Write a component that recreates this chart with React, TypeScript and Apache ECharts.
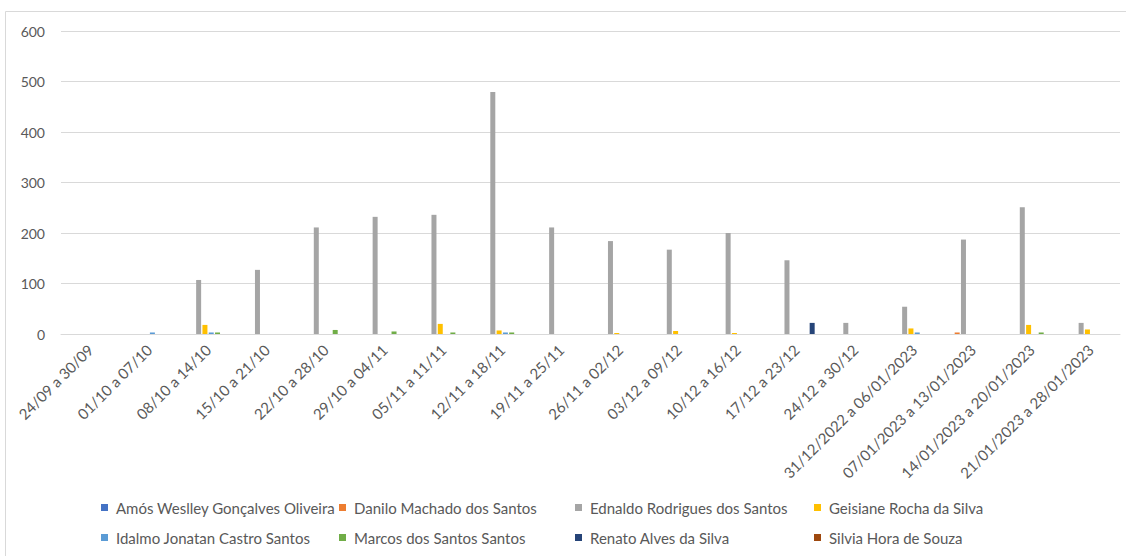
import React, { useEffect, useRef } from "react";
import * as echarts from "echarts";

const categories = [
  "24/09 a 30/09", "01/10 a 07/10", "08/10 a 14/10", "15/10 a 21/10", "22/10 a 28/10",
  "29/10 a 04/11", "05/11 a 11/11", "12/11 a 18/11", "19/11 a 25/11", "26/11 a 02/12",
  "03/12 a 09/12", "10/12 a 16/12", "17/12 a 23/12", "24/12 a 30/12",
  "31/12/2022 a 06/01/2023", "07/01/2023 a 13/01/2023", "14/01/2023 a 20/01/2023", "21/01/2023 a 28/01/2023",
];

const seriesNames = [
  "Amós Weslley Gonçalves Oliveira",
  "Danilo Machado dos Santos",
  "Ednaldo Rodrigues dos Santos",
  "Geisiane Rocha da Silva",
  "Idalmo Jonatan Castro Santos",
  "Marcos dos Santos Santos",
  "Renato Alves da Silva",
  "Silvia Hora de Souza",
];

const amos = [0, 0, 0, 0, 0, 0, 0, 0, 0, 0, 0, 0, 0, 0, 0, 0, 0, 0];
const danilo = [0, 0, 0, 0, 0, 0, 0, 0, 0, 0, 0, 0, 0, 0, 0, 3, 0, 0];
const ednaldo = [0, 0, 107, 127, 211, 232, 236, 479, 211, 184, 167, 200, 146, 22, 54, 187, 251, 22];
const geisiane = [0, 0, 18, 0, 0, 0, 20, 7, 0, 2, 6, 2, 0, 0, 11, 0, 18, 9];
const idalmo = [0, 3, 3, 0, 0, 0, 0, 3, 0, 0, 0, 0, 0, 0, 3, 0, 0, 0];
const marcos = [0, 0, 3, 0, 8, 5, 3, 3, 0, 0, 0, 0, 0, 0, 0, 0, 3, 0];
const renato = [0, 0, 0, 0, 0, 0, 0, 0, 0, 0, 0, 0, 22, 0, 0, 0, 0, 0];
const silvia = [0, 0, 0, 0, 0, 0, 0, 0, 0, 0, 0, 0, 0, 0, 0, 0, 0, 0];

const seriesData = [amos, danilo, ednaldo, geisiane, idalmo, marcos, renato, silvia];
const colors = ["#4472C4", "#ED7D31", "#A5A5A5", "#FFC000", "#5B9BD5", "#70AD47", "#264478", "#9E480E"];

const legendCols = [101, 339, 575, 814];
const legendRows = [500, 530];

export default function App() {
  const ref = useRef<HTMLDivElement>(null);
  useEffect(() => {
    document.body.style.margin = "0";
    const chart = echarts.init(ref.current!, null, { renderer: "svg" });
    const font = "Lato, 'Open Sans', sans-serif";
    const legends = seriesNames.map((name, i) => ({
      data: [name],
      left: legendCols[i % 4],
      top: legendRows[Math.floor(i / 4)],
      itemWidth: 7,
      itemHeight: 7,
      icon: "rect",
      padding: 0,
      textStyle: { color: "#595959", fontSize: 15, fontFamily: font, padding: [0, 0, 0, 3] },
      selectedMode: false,
    }));
    chart.setOption({
      animation: false,
      color: colors,
      textStyle: { fontFamily: font },
      graphic: [
        {
          type: "rect",
          shape: { x: 5.5, y: 11.5, width: 1300, height: 700 },
          style: { fill: "none", stroke: "#d9d9d9", lineWidth: 1 },
          silent: true,
        },
      ],
      legend: legends,
      grid: { left: 61, right: 6, top: 31, bottom: 222, containLabel: false },
      xAxis: {
        type: "category",
        data: categories,
        axisLine: { lineStyle: { color: "#d9d9d9", width: 1 } },
        axisTick: { show: false },
        axisLabel: {
          rotate: 45,
          interval: 0,
          color: "#595959",
          fontSize: 15,
          fontFamily: font,
          margin: 13,
        },
      },
      yAxis: {
        type: "value",
        min: 0,
        max: 600,
        interval: 100,
        axisLine: { show: false },
        axisTick: { show: false },
        splitLine: { lineStyle: { color: "#d9d9d9", width: 1 } },
        axisLabel: { color: "#595959", fontSize: 14, fontFamily: font, margin: 16 },
      },
      series: seriesNames.map((name, i) => ({
        name,
        type: "bar",
        data: seriesData[i],
        barWidth: 5,
        barGap: "26%",
        itemStyle: { color: colors[i] },
      })),
    });
    return () => chart.dispose();
  }, []);
  return <div ref={ref} style={{ width: 1126, height: 556 }} />;
}
